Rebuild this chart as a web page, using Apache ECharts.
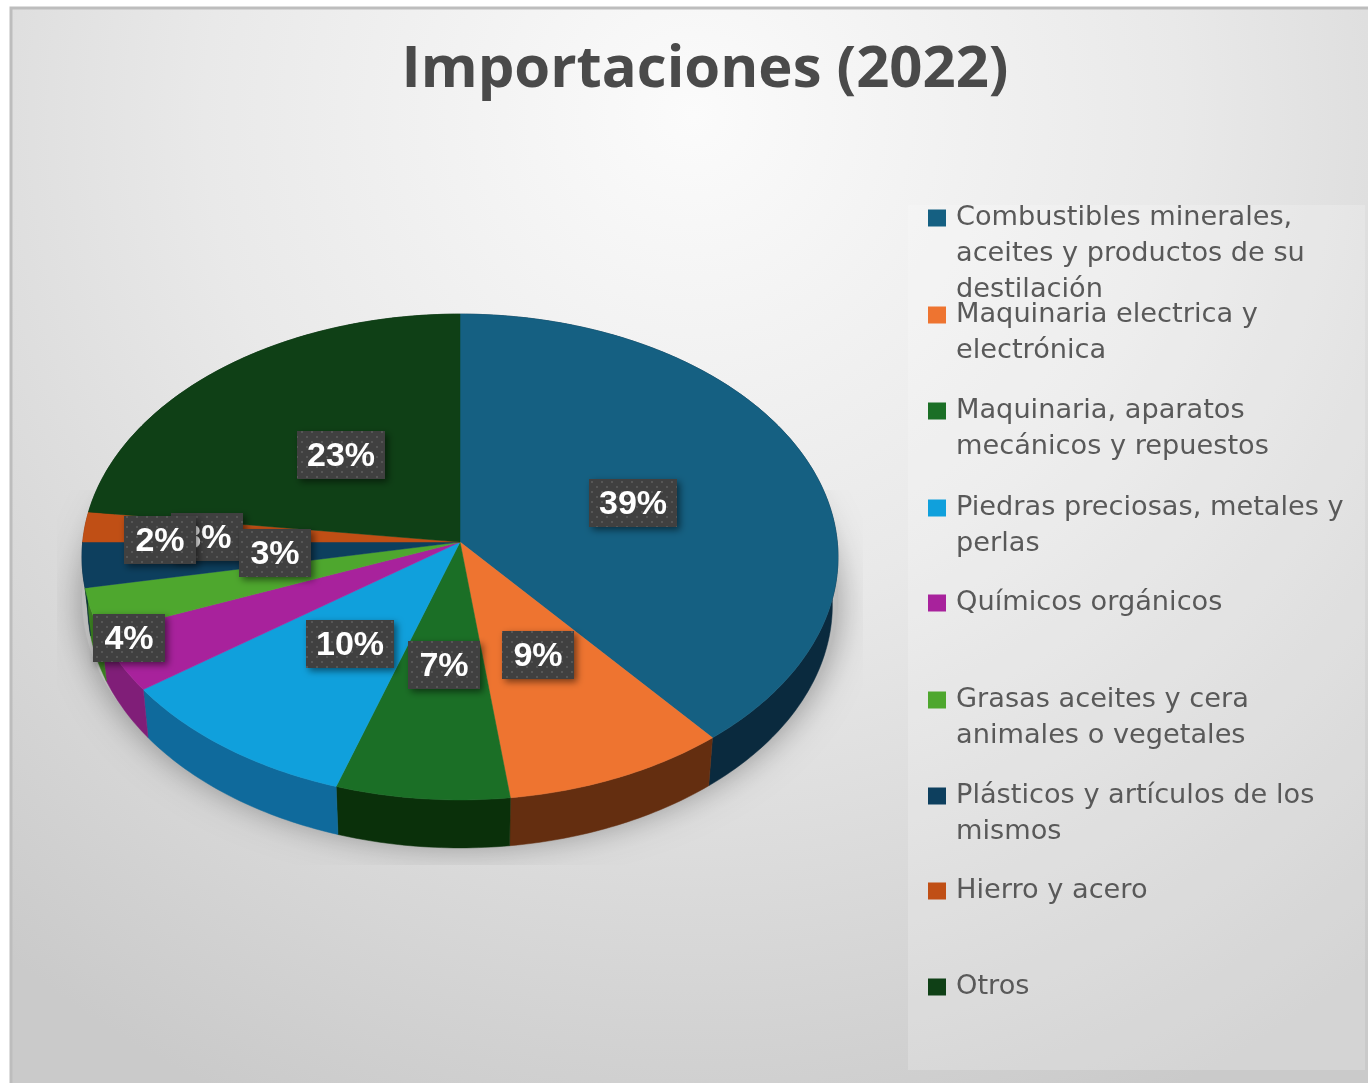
<!DOCTYPE html>
<html><head><meta charset="utf-8">
<style>html,body{margin:0;padding:0;background:#fff}#c{width:1368px;height:1083px}</style>
<script src="https://cdn.jsdelivr.net/npm/echarts@6/dist/echarts.min.js"></script>
</head><body><div id="c"></div>
<script>
const categories = [
  'Combustibles minerales,\naceites y productos de su\ndestilación',
  'Maquinaria electrica y\nelectrónica',
  'Maquinaria, aparatos\nmecánicos y repuestos',
  'Piedras preciosas, metales y\nperlas',
  'Químicos orgánicos',
  'Grasas aceites y cera\nanimales o vegetales',
  'Plásticos y artículos de los\nmismos',
  'Hierro y acero',
  'Otros'
];
const values = [39, 9, 7, 10, 4, 3, 3, 2, 23];
const topColors = ['#156082','#EE7430','#1B6F26','#10A0DC','#A8229C','#4EA72E','#0D3F5E','#C04F15','#0F4016'];
const wallColors = ['#0A2A3E','#642E10','#0A300A','#0F6A9C','#801E78','#3A7D20','#08283C','#803510','#0A2E10'];
// layout only: centre of each (manually placed) data-label box
const labelCenters = [[633,503],[538,655],[444,665],[350,644],[129,638],[207,537],[275,553],[160,540],[341,455]];
// layout only: y of the first text line of each legend entry
const legendY = [218,315,411,508,603,700,796,891,987];

const APEX = [460, 542], A = 377.3, B = 242, K = 0.0617, DEPTH = 48, BOTTOM_SCALE = 0.985;
const total = values.reduce((a, b) => a + b, 0);
function rim(pct) {
  const t = pct / total * 2 * Math.PI, x = Math.sin(t), y = -Math.cos(t), d = 1 - K * y;
  return [APEX[0] + A * x / d, APEX[1] + B * y / d];
}
function arc(p0, p1) {
  const n = Math.max(2, Math.ceil((p1 - p0) * 4)), pts = [];
  for (let i = 0; i <= n; i++) pts.push(rim(p0 + (p1 - p0) * i / n));
  return pts;
}
const lowerRim = p => [APEX[0] + (p[0] - APEX[0]) * BOTTOM_SCALE, p[1] + DEPTH];
// dotted label texture
const pat = document.createElement('canvas'); pat.width = 10; pat.height = 10;
(function () {
  const g = pat.getContext('2d');
  g.fillStyle = '#404040'; g.fillRect(0, 0, 10, 10);
  g.fillStyle = '#565656'; g.fillRect(1, 1, 2, 2); g.fillRect(6, 6, 2, 2);
})();

let cum = 0;
const sliceSeries = values.map((v, i) => {
  const start = cum; cum += v;
  return {
    type: 'custom', name: categories[i], coordinateSystem: 'none',
    itemStyle: { color: topColors[i] }, silent: true,
    data: [[v, start]],
    renderItem: (params, api) => {
      const val = api.value(0), s = api.value(1), pts = arc(s, s + val);
      const wall = pts.concat(pts.slice().reverse().map(lowerRim));
      const label = Math.round(val / total * 100) + '%';
      const w = label.length > 2 ? 88 : 72, c = labelCenters[i];
      return { type: 'group', children: [
        { type: 'polygon', z2: 1, shape: { points: wall }, style: { fill: wallColors[i], stroke: wallColors[i], lineWidth: 0.5 } },
        { type: 'polygon', z2: 10, shape: { points: [APEX].concat(pts) }, style: { fill: topColors[i], stroke: topColors[i], lineWidth: 0.5 } },
        { type: 'rect', z2: 100 + i * 2, shape: { x: c[0] - w / 2, y: c[1] - 24, width: w, height: 48 },
          style: { fill: { image: pat, repeat: 'repeat' }, shadowBlur: 7, shadowOffsetX: 3, shadowOffsetY: 3, shadowColor: 'rgba(0,0,0,0.5)' } },
        { type: 'text', z2: 101 + i * 2, x: c[0], y: c[1] + 2,
          style: { text: label, fill: '#fff', font: 'bold 34px "Liberation Sans"', align: 'center', verticalAlign: 'middle' } }
      ] };
    }
  };
});

const shadowSeries = {
  type: 'custom', name: 'sombra', coordinateSystem: 'none', silent: true, data: [[0]],
  renderItem: () => ({
    type: 'group',
    clipPath: { type: 'rect', shape: { x: 57, y: 490, width: 806, height: 375 } },
    children: [{
      type: 'polygon', z2: 0, shape: { points: arc(0, total).map(p => [p[0], p[1] + DEPTH - 6]) },
      style: { fill: '#bcbcbc', shadowBlur: 34, shadowColor: 'rgba(0,0,0,0.36)', shadowOffsetY: 3 }
    }]
  })
};

const LH = 36;
const legends = categories.map((name, i) => {
  const n = name.split('\n').length, lead = n - 1;
  return {
    data: [name], orient: 'vertical', left: 928, top: legendY[i] - (lead + n) * LH / 2,
    itemWidth: 18, itemHeight: 17, selectedMode: false, icon: 'rect', padding: 0,
    // blank leading lines keep the first text line level with the square
    formatter: nm => '\n'.repeat(lead) + nm,
    textStyle: { fontFamily: 'DejaVu Sans', fontSize: 27.2, color: '#595959', lineHeight: LH, padding: [0, 0, 0, 5] }
  };
});

const chart = echarts.init(document.getElementById('c'), null, { renderer: 'canvas' });
chart.setOption({
  animation: false,
  backgroundColor: '#ffffff',
  title: { text: 'Importaciones (2022)', left: 700, top: 36, textAlign: 'center',
    textStyle: { fontFamily: 'Open Sans', fontWeight: 700, fontSize: 58, color: '#4a4a4a' } },
  legend: legends,
  graphic: [
    { type: 'rect', z: -10, shape: { x: 11, y: 8, width: 1364, height: 1082 },
      style: { fill: { type: 'radial', x: 0.5, y: 0.1, r: 1.0, colorStops: [
        { offset: 0, color: '#fbfbfb' }, { offset: 0.45, color: '#e9e9e9' }, { offset: 1, color: '#cacaca' } ] },
        stroke: '#bdbdbd', lineWidth: 3 } },
    { type: 'rect', z: -9, shape: { x: 908, y: 205, width: 457, height: 865 },
      style: { fill: 'rgba(255,255,255,0.2)' } }
  ],
  series: [shadowSeries].concat(sliceSeries)
});
</script></body></html>
